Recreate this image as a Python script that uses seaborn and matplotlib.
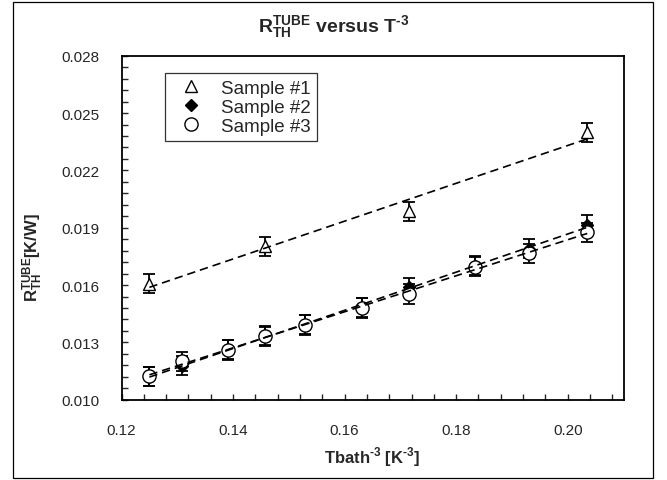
import numpy as np
import pandas as pd
import seaborn as sns
import matplotlib.pyplot as plt
from matplotlib.patches import Rectangle
from matplotlib.ticker import FormatStrFormatter, MultipleLocator

# Tbath^-3 [K^-3] and R_TH^TUBE [K/W]
x_s1 = [0.1250, 0.1458, 0.1715, 0.2035]
r_s1 = [0.01606, 0.01804, 0.01986, 0.02399]
x_s23 = [0.1250, 0.1308, 0.1391, 0.1458, 0.1529, 0.1632, 0.1715, 0.1834, 0.1931, 0.2035]
r_s2 = [0.01120, 0.01178, 0.01262, 0.01333, 0.01393, 0.01482, 0.01588, 0.01702, 0.01789, 0.01914]
r_s3 = [0.01122, 0.01201, 0.01260, 0.01335, 0.01391, 0.01480, 0.01553, 0.01696, 0.01766, 0.01876]
r_err = 0.0005
labels = ['Sample #1', 'Sample #2', 'Sample #3']

sns.set_style('ticks')
plt.rcParams['font.family'] = ['Liberation Sans', 'DejaVu Sans']
plt.rcParams['mathtext.fontset'] = 'custom'
plt.rcParams['mathtext.rm'] = 'Liberation Sans'
plt.rcParams['mathtext.bf'] = 'Liberation Sans:bold'

HY = '\u2010'  # plain hyphen for the "-3" exponents

series = [
    (x_s1, r_s1, labels[0], '^', 8.5, 'white'),
    (x_s23, r_s2, labels[1], 'D', 6.5, 'black'),
    (x_s23, r_s3, labels[2], 'o', 9.5, 'white'),
]

fig = plt.figure(figsize=(6.67, 4.81), dpi=100)
ax = fig.add_axes([0.1822, 0.1669, 0.7526, 0.7152])

for xs, ys, lab, mk, ms, fc in series:
    df = pd.DataFrame({'x': xs, 'r': ys})
    ax.errorbar(df['x'], df['r'], yerr=r_err, fmt='none', ecolor='black',
                elinewidth=1.3, capsize=4.5, capthick=1.3, zorder=2)
    ax.plot(df['x'], df['r'], ls='none', marker=mk, ms=ms, mfc=fc,
            mec='black', mew=1.0, label=lab, zorder=3)
    # dashed linear trend over each sample's range
    sns.regplot(data=df, x='x', y='r', ax=ax, ci=None, scatter=False,
                color='black', line_kws={'ls': (0, (5, 3)), 'lw': 1.2, 'zorder': 5})

ax.set_xlim(0.12, 0.21)
ax.set_ylim(0.010, 0.028)
ax.xaxis.set_major_locator(MultipleLocator(0.02))
ax.xaxis.set_minor_locator(MultipleLocator(0.004))
ax.yaxis.set_major_locator(MultipleLocator(0.003, offset=0.001))
ax.yaxis.set_minor_locator(MultipleLocator(0.0006, offset=0.0004))
ax.xaxis.set_major_formatter(FormatStrFormatter('%.2f'))
ax.yaxis.set_major_formatter(FormatStrFormatter('%.3f'))
ax.tick_params(which='both', direction='in', length=4, width=1.0,
               top=False, right=False, labelsize=11)
ax.tick_params(axis='x', which='major', pad=17)
ax.tick_params(axis='y', which='major', pad=16)
for sp in ax.spines.values():
    sp.set_linewidth(1.3)
    sp.set_color('black')

ax.set_xlabel(r'Tbath$^{\mathbf{' + HY + r'3}}$ [K$^{\mathbf{' + HY + r'3}}$]',
              fontsize=12, fontweight='bold')
ax.xaxis.set_label_coords(0.5, -0.164)
ax.xaxis.label.set_va('center')
ax.set_ylabel(r'$\mathbf{R_{TH}^{TUBE}}$[K/W]', fontsize=12, fontweight='bold')
ax.yaxis.set_label_coords(-0.176, 0.415)
ax.yaxis.label.set_va('center')

fig.text(0.5, 1 - 27 / 481,
         r'$\mathbf{R_{TH}^{TUBE}}$ versus T$^{\mathbf{' + HY + r'3}}$',
         ha='center', va='center', fontsize=14, fontweight='bold')

leg = ax.legend(loc='upper left', bbox_to_anchor=(0.087, 0.95), fontsize=13.5,
                frameon=True, fancybox=False, borderpad=0.35, labelspacing=0.1,
                handletextpad=0.6, handlelength=2.0, borderaxespad=0)
leg.get_frame().set_edgecolor('black')
leg.get_frame().set_linewidth(0.9)

fig.patches.append(Rectangle((13 / 667, 2 / 481), 640 / 667, 476 / 481,
                             transform=fig.transFigure, fill=False,
                             edgecolor='black', linewidth=0.9))

fig.savefig('out.png', dpi=100)
